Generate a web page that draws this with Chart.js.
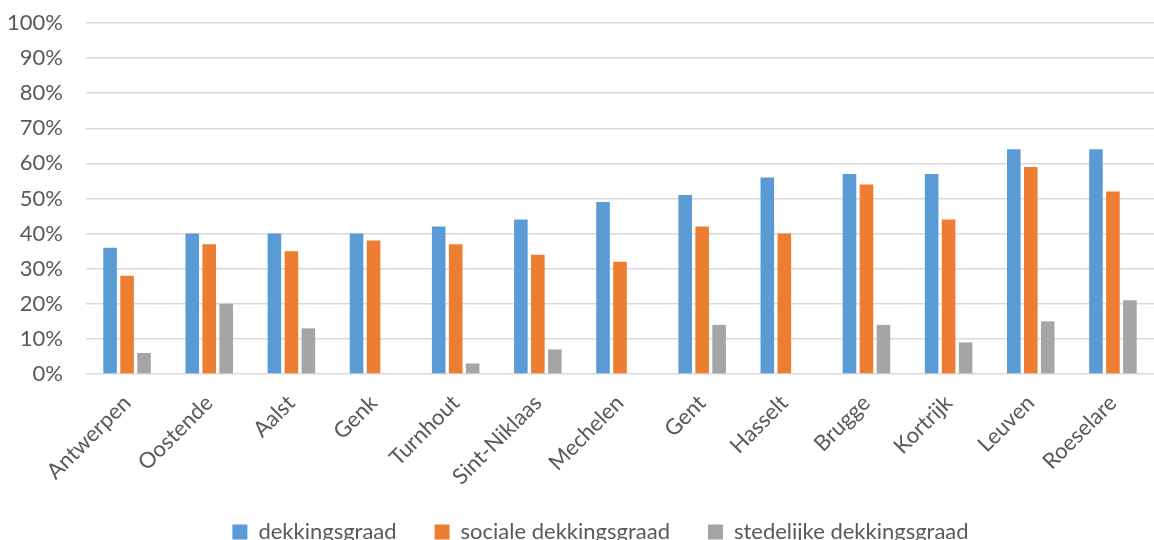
<!DOCTYPE html>
<html lang="nl">
<head>
  <meta charset="UTF-8">
  <title>Dekkingsgraad per stad</title>
  <script src="https://cdn.jsdelivr.net/npm/chart.js"></script>
  <style>
    html, body {
      margin: 0;
      padding: 0;
      background: #ffffff;
      overflow: hidden;
    }
    .chart-container {
      position: relative;
      width: 1154px;
      height: 553px;
    }
  </style>
</head>
<body>
  <div class="chart-container">
    <canvas id="chart"></canvas>
  </div>

  <script>
    // data
    const steden = ['Antwerpen', 'Oostende', 'Aalst', 'Genk', 'Turnhout', 'Sint-Niklaas',
      'Mechelen', 'Gent', 'Hasselt', 'Brugge', 'Kortrijk', 'Leuven', 'Roeselare'];
    const dekkingsgraad = [36, 40, 40, 40, 42, 44, 49, 51, 56, 57, 57, 64, 64];
    const socialeDekkingsgraad = [28, 37, 35, 38, 37, 34, 32, 42, 40, 54, 44, 59, 52];
    const stedelijkeDekkingsgraad = [6, 20, 13, 0, 3, 7, 0, 14, 0, 14, 9, 15, 21];

    const tekstKleur = '#595959';
    const lettertype = "Lato, 'Open Sans', sans-serif";

    const reeks = (label, data, kleur) => ({
      label: label,
      data: data,
      backgroundColor: kleur,
      borderWidth: 0,
      categoryPercentage: 0.62,
      barPercentage: 0.8
    });

    // legenda iets naar rechts schuiven (Chart.js telt de laatste padding mee bij het centreren)
    // en de x-labels niet afknippen aan de onderkant van de as
    const layoutAanpassing = {
      id: 'layoutAanpassing',
      afterLayout(chart) {
        chart.legend.left += 19;
        chart.legend.right += 19;
        chart.scales.x.bottom += 40;
      }
    };

    new Chart(document.getElementById('chart'), {
      type: 'bar',
      data: {
        labels: steden,
        datasets: [
          reeks('dekkingsgraad', dekkingsgraad, '#5b9bd5'),
          reeks('sociale dekkingsgraad', socialeDekkingsgraad, '#ed7d31'),
          reeks('stedelijke dekkingsgraad', stedelijkeDekkingsgraad, '#a5a5a5')
        ]
      },
      options: {
        responsive: true,
        maintainAspectRatio: false,
        animation: false,
        layout: {
          padding: { top: 23, right: 0, left: 9, bottom: 0 }
        },
        plugins: {
          tooltip: { enabled: false },
          legend: {
            position: 'bottom',
            labels: {
              boxWidth: 15,
              boxHeight: 15,
              padding: 38,
              color: tekstKleur,
              font: { family: lettertype, size: 22 }
            }
          }
        },
        scales: {
          x: {
            grid: { display: false },
            border: { display: false },
            afterFit: s => {
              s.paddingLeft = 0;
              s.paddingRight = 0;
              s.height = 109;
            },
            ticks: {
              maxRotation: 45,
              minRotation: 45,
              padding: 8,
              color: tekstKleur,
              font: { family: lettertype, size: 22 }
            }
          },
          y: {
            min: 0,
            max: 100,
            border: { display: false },
            afterFit: s => {
              s.paddingTop = 0;
              s.width = 77;
            },
            grid: {
              color: '#d9d9d9',
              lineWidth: 1.5,
              drawTicks: false
            },
            ticks: {
              stepSize: 10,
              padding: 23,
              color: tekstKleur,
              font: { family: lettertype, size: 22 },
              callback: v => v + '%'
            }
          }
        }
      },
      plugins: [layoutAanpassing]
    });
  </script>
</body>
</html>
